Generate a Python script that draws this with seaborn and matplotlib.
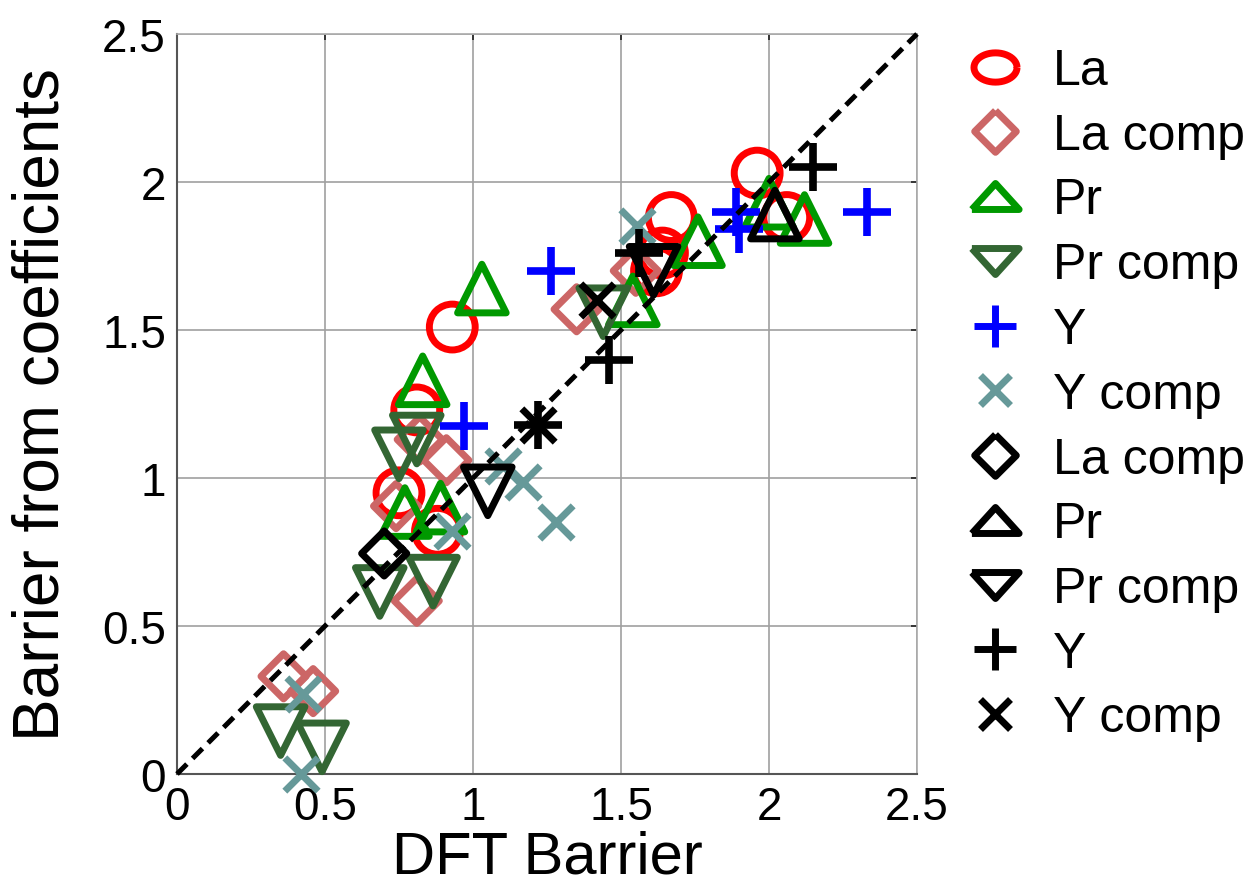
import numpy as np
import matplotlib
matplotlib.use("Agg")
import matplotlib.pyplot as plt
import seaborn as sns
from matplotlib.lines import Line2D

# ---------------- data ----------------
la_x = [0.93, 0.81, 0.75, 0.88, 1.67, 1.64, 1.62, 1.96, 2.06]
la_y = [1.51, 1.23, 0.95, 0.82, 1.88, 1.76, 1.70, 2.03, 1.88]

la_comp_x = [0.36, 0.46, 0.81, 0.74, 0.82, 0.91, 1.35, 1.55]
la_comp_y = [0.33, 0.28, 0.585, 0.905, 1.13, 1.06, 1.57, 1.70]

pr_x = [1.03, 0.83, 0.77, 0.89, 1.76, 1.54, 2.12, 2.00]
pr_y = [1.64, 1.33, 0.885, 0.90, 1.80, 1.60, 1.875, 1.93]

pr_comp_x = [0.35, 0.49, 0.685, 0.865, 0.81, 0.75, 1.44]
pr_comp_y = [0.145, 0.09, 0.615, 0.65, 1.13, 1.08, 1.56]

y_x = [0.97, 1.265, 1.89, 1.90, 2.33]
y_y = [1.175, 1.70, 1.90, 1.84, 1.90]

y_comp_x = [0.425, 0.42, 0.93, 1.10, 1.17, 1.28, 1.555]
y_comp_y = [0.27, 0.0, 0.82, 1.04, 0.985, 0.85, 1.85]

k_la_comp_x = [0.70]
k_la_comp_y = [0.745]

k_pr_x = [2.02]
k_pr_y = [1.89]

k_pr_comp_x = [1.05, 1.61]
k_pr_comp_y = [0.955, 1.70]

k_y_x = [2.15, 1.46, 1.56, 1.22]
k_y_y = [2.05, 1.40, 1.76, 1.18]

k_y_comp_x = [1.42, 1.22]
k_y_comp_y = [1.60, 1.18]

diag = [0.0, 2.5]

labels = ["La", "La comp", "Pr", "Pr comp", "Y", "Y comp",
          "La comp", "Pr", "Pr comp", "Y", "Y comp"]
tick_vals = [0, 0.5, 1, 1.5, 2, 2.5]
tick_labels = ["0", "0.5", "1", "1.5", "2", "2.5"]

# ---------------- style ----------------
sns.set_style("white")
plt.rcParams['font.family'] = ['Liberation Sans', 'DejaVu Sans']
plt.rcParams['text.color'] = 'black'
plt.rcParams['axes.labelcolor'] = 'black'

RED = "#ff0000"
ROSE = "#cc6666"
GREEN = "#009900"
DKGREEN = "#336633"
BLUE = "#0000ff"
TEAL = "#669999"
BLACK = "#000000"

fig = plt.figure(figsize=(12.51, 8.87), dpi=100)
ax = fig.add_axes([177 / 1251, 112 / 887, 740 / 1251, 740 / 887])

series = [
    (la_x, la_y, "o", RED, 33, 5.0),
    (la_comp_x, la_comp_y, "D", ROSE, 23, 5.0),
    (pr_x, pr_y, "^", GREEN, 35, 5.0),
    (pr_comp_x, pr_comp_y, "v", DKGREEN, 35, 5.0),
    (y_x, y_y, "+", BLUE, 34, 5.5),
    (y_comp_x, y_comp_y, "x", TEAL, 24, 5.0),
    (k_la_comp_x, k_la_comp_y, "D", BLACK, 23, 5.0),
    (k_pr_x, k_pr_y, "^", BLACK, 35, 5.0),
    (k_pr_comp_x, k_pr_comp_y, "v", BLACK, 35, 5.0),
    (k_y_x, k_y_y, "+", BLACK, 34, 5.5),
    (k_y_comp_x, k_y_comp_y, "x", BLACK, 24, 5.0),
]

for i, (xs, ys, m, c, size, lw) in enumerate(series):
    if m in ("+", "x"):
        sns.scatterplot(x=xs, y=ys, ax=ax, marker=m, s=size ** 2, color=c,
                        linewidth=lw, clip_on=False, zorder=3 + i * 0.01)
    else:
        sns.scatterplot(x=xs, y=ys, ax=ax, marker=m, s=size ** 2,
                        facecolor="none", edgecolor=c, linewidth=lw,
                        clip_on=False, zorder=3 + i * 0.01)

sns.lineplot(x=diag, y=diag, ax=ax, color="black", linewidth=3.6,
             linestyle=(0, (2.8, 1.6)), zorder=5, clip_on=False)

ax.set_xlim(0, 2.5)
ax.set_ylim(0, 2.5)
ax.set_xticks(tick_vals)
ax.set_yticks(tick_vals)
ax.set_xticklabels(tick_labels)
ax.set_yticklabels(tick_labels)
ax.grid(True, color="#a0a0a0", linewidth=1.2)
ax.set_axisbelow(True)
for s in ["left", "bottom"]:
    ax.spines[s].set_color("#555555")
    ax.spines[s].set_linewidth(1.5)
for s in ["top", "right"]:
    ax.spines[s].set_color("#aaaaaa")
    ax.spines[s].set_linewidth(1.2)
ax.tick_params(axis="both", which="both", direction="in", length=4,
               width=1.2, colors="#222222", labelcolor="black",
               labelsize=33, top=True, right=True, pad=8)

ax.set_xlabel("DFT Barrier", fontsize=43, labelpad=0, color="black")
ax.set_ylabel("Barrier from coefficients", fontsize=46, labelpad=22,
              color="black")

# legend (squashed shapes as in the reference legend)
t = np.linspace(0, 2 * np.pi, 49)
ellipse = list(zip(np.cos(t), 0.68 * np.sin(t)))
diamond = [(0, 1), (1, 0), (0, -1), (-1, 0), (0, 1)]
tri_up = [(-1, -0.55), (1, -0.55), (0, 0.55), (-1, -0.55)]
tri_dn = [(-1, 0.55), (1, 0.55), (0, -0.55), (-1, 0.55)]
leg_specs = [
    (ellipse, RED, 31, 5.0), (diamond, ROSE, 30, 5.0),
    (tri_up, GREEN, 34, 5.0), (tri_dn, DKGREEN, 34, 5.0),
    ("+", BLUE, 30, 5.0), ("x", TEAL, 22, 5.0),
    (diamond, BLACK, 30, 5.0), (tri_up, BLACK, 34, 5.0),
    (tri_dn, BLACK, 34, 5.0), ("+", BLACK, 30, 5.0), ("x", BLACK, 22, 5.0),
]
handles = []
for m, c, ms, mew in leg_specs:
    if isinstance(m, str):
        h = Line2D([], [], linestyle="none", marker=m, markersize=ms,
                   color=c, markeredgewidth=mew)
    else:
        h = Line2D([], [], linestyle="none", marker=m, markersize=ms,
                   markerfacecolor="none", markeredgecolor=c,
                   markeredgewidth=mew)
    handles.append(h)

ax.legend(handles, labels, loc="upper left",
          bbox_to_anchor=(965 / 1251, 1 - 49 / 887),
          bbox_transform=fig.transFigure, frameon=False, fontsize=36,
          labelspacing=0.375, handlelength=1.2, handletextpad=0.56,
          borderaxespad=0, borderpad=0)

fig.savefig("out.png", dpi=100)
